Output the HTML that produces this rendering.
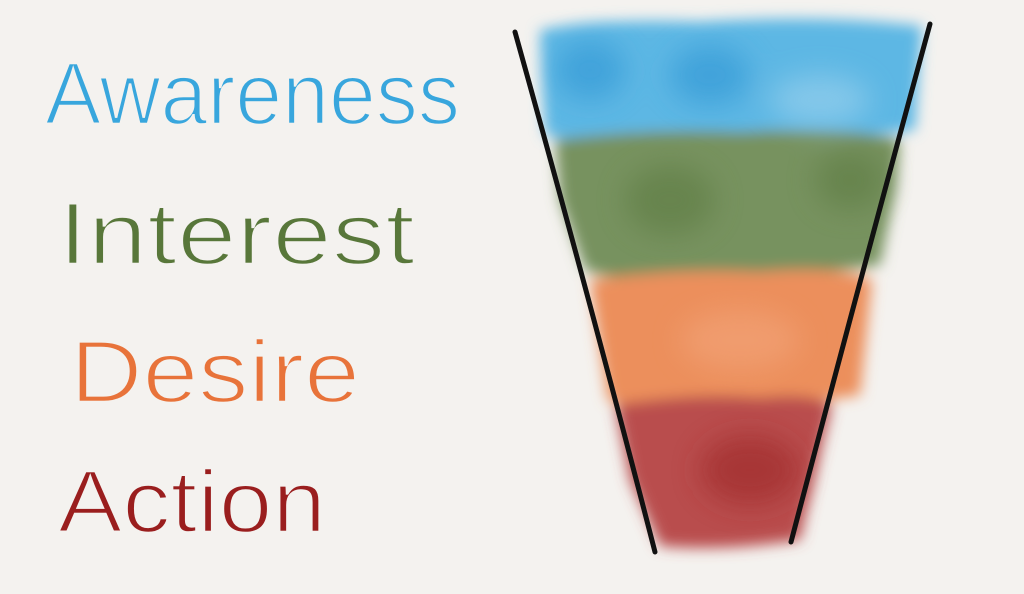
<!DOCTYPE html>
<html><head><meta charset="utf-8"><style>
html,body{margin:0;padding:0;background:#f4f2ef;}
svg{display:block}
</style></head><body>
<svg width="1024" height="594" viewBox="0 0 1024 594" xmlns="http://www.w3.org/2000/svg">
<defs>
<filter id="b" x="-20%" y="-20%" width="140%" height="140%"><feGaussianBlur stdDeviation="7"/></filter>
<filter id="b2" x="-20%" y="-20%" width="140%" height="140%"><feGaussianBlur stdDeviation="14"/></filter>
</defs>
<rect width="1024" height="594" fill="#f4f2ef"/>
<g filter="url(#b)">
<path d="M540 30 Q600 18 700 22 Q820 14 922 26 L915 130 Q800 145 700 138 Q600 148 545 135 Z" fill="#5db7e4"/>
<path d="M555 140 Q650 128 740 132 Q840 125 900 140 L895 190 L880 265 Q780 280 700 272 Q620 285 585 270 L560 200 Z" fill="#77925e"/>
<path d="M590 280 Q680 268 760 272 Q840 265 872 280 L860 395 Q760 410 700 402 Q640 412 608 400 Z" fill="#ec8f5c"/>
<path d="M615 405 Q700 392 760 398 Q810 392 832 405 L815 475 L800 540 Q720 552 660 546 L630 480 Z" fill="#b94e4e"/>
</g>
<g filter="url(#b2)" opacity="0.6">
<ellipse cx="590" cy="70" rx="35" ry="30" fill="#2e95d4"/>
<ellipse cx="710" cy="75" rx="40" ry="30" fill="#2e95d4"/>
<ellipse cx="820" cy="100" rx="50" ry="25" fill="#9fd3ee"/>
<ellipse cx="670" cy="200" rx="45" ry="35" fill="#5d7c42"/>
<ellipse cx="850" cy="180" rx="35" ry="30" fill="#5d7c42"/>
<ellipse cx="740" cy="340" rx="60" ry="30" fill="#f3a57a"/>
<ellipse cx="750" cy="470" rx="50" ry="35" fill="#9c2626"/>
</g>
<path d="M515 32 Q590 300 655 552" stroke="#111" stroke-width="5" fill="none" stroke-linecap="round"/>
<path d="M930 24 Q860 280 791 542" stroke="#111" stroke-width="5" fill="none" stroke-linecap="round"/>
<g font-family="Liberation Sans, sans-serif" font-size="88" stroke="#f4f2ef" stroke-width="2.5">
<text x="45" y="124" fill="#38a6dd" textLength="415" lengthAdjust="spacingAndGlyphs">Awareness</text>
<text x="58" y="264" fill="#58773a" textLength="357" lengthAdjust="spacingAndGlyphs">Interest</text>
<text x="70" y="402" fill="#e8733a" textLength="290" lengthAdjust="spacingAndGlyphs">Desire</text>
<text x="58" y="532" fill="#9a1e1e" textLength="268" lengthAdjust="spacingAndGlyphs">Action</text>
</g>
</svg>
</body></html>
